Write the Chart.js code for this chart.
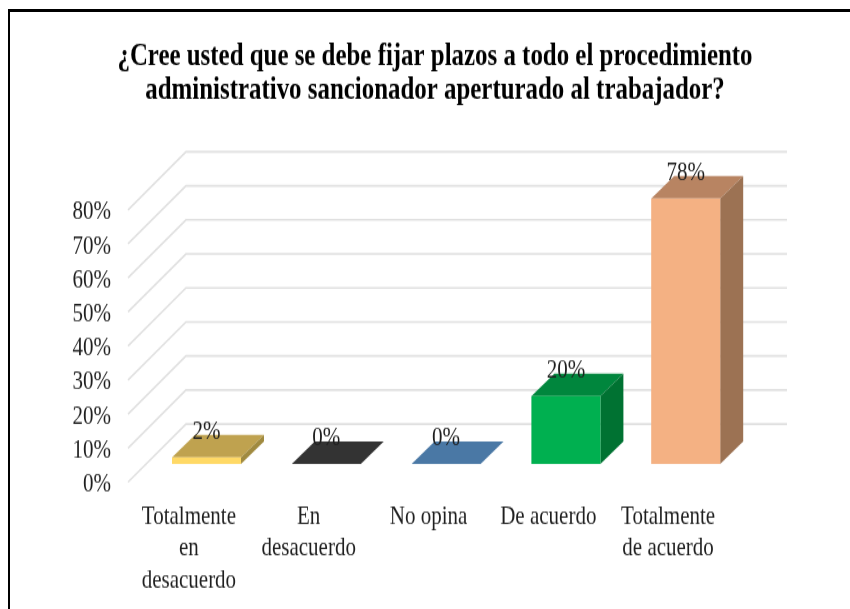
<!DOCTYPE html>
<html>
<head>
<meta charset="utf-8">
<style>
  html, body { margin: 0; padding: 0; background: #fff; overflow: hidden; }
  #frame { position: absolute; left: 8px; top: 9px; width: 842px; height: 600px; border-top: 3px solid #000; border-left: 2px solid #000; box-sizing: border-box; }
  /* the reference is stretched vertically, so the canvas is too */
  #chart { position: absolute; left: 0; top: 0; width: 850px; height: 609px; }
</style>
</head>
<body>
<canvas id="chart" width="850" height="487" style="width:850px;height:609px"></canvas>
<div id="frame"></div>
<script src="https://cdn.jsdelivr.net/npm/chart.js@4/dist/chart.umd.min.js"></script>
<script>
const titleLines = [
    "¿Cree usted que se debe fijar plazos a todo el procedimiento",
    "administrativo sancionador aperturado al trabajador?"
];
const categories = [
    ["Totalmente", "en", "desacuerdo"],
    ["En", "desacuerdo"],
    ["No opina"],
    ["De acuerdo"],
    ["Totalmente", "de acuerdo"]
];
const values = [2, 0, 0, 20, 78];
const frontColors = ["#FFD966", "#404040", "#5B9BD5", "#00B050", "#F4B183"];
const topColors = ["#BFA24F", "#333333", "#4A78A5", "#00863D", "#B88462"];
const sideColors = ["#A08A3F", "#2B2B2B", "#3F678C", "#007232", "#9C7253"];

const gridColor = "#E0E0E0";
const textColor = "#1F1F1F";
const serif = "'Liberation Serif', serif";

// 3D look, canvas units (y is stretched 1.25x by css afterwards)
const wallDx = 57, wallDy = 46.4;
const barDx = 17.6, barDy = 14.4;
const sideDx = 23, sideDy = 18;

const fake3d = {
    id: "fake3d",
    beforeDatasetsDraw(chart) {
        const { ctx, chartArea, scales } = chart;
        ctx.save();
        // back wall lines with their diagonal
        ctx.strokeStyle = gridColor;
        ctx.lineWidth = 1.6;
        scales.y.ticks.forEach(t => {
            const y = scales.y.getPixelForValue(t.value);
            ctx.beginPath();
            ctx.moveTo(chartArea.left - 1, y);
            ctx.lineTo(chartArea.left + wallDx, y - wallDy);
            ctx.lineTo(chartArea.right + wallDx + 2, y - wallDy);
            ctx.stroke();
        });
        // bars stand in the middle of the floor, so shift them back
        ctx.translate(barDx, -barDy);
        chart.getDatasetMeta(0).data.forEach((bar, i) => {
            const l = bar.x - bar.width / 2, r = bar.x + bar.width / 2;
            ctx.fillStyle = topColors[i];
            ctx.beginPath();
            ctx.moveTo(l, bar.y);
            ctx.lineTo(l + sideDx, bar.y - sideDy);
            ctx.lineTo(r + sideDx, bar.y - sideDy);
            ctx.lineTo(r, bar.y);
            ctx.closePath();
            ctx.fill();
            if (bar.base > bar.y) {
                ctx.fillStyle = sideColors[i];
                ctx.beginPath();
                ctx.moveTo(r, bar.y);
                ctx.lineTo(r + sideDx, bar.y - sideDy);
                ctx.lineTo(r + sideDx, bar.base - sideDy);
                ctx.lineTo(r, bar.base);
                ctx.closePath();
                ctx.fill();
            }
        });
    },
    afterDatasetsDraw(chart) {
        const { ctx } = chart;
        ctx.fillStyle = textColor;
        ctx.font = "21px " + serif;
        ctx.textAlign = "center";
        ctx.textBaseline = "middle";
        chart.getDatasetMeta(0).data.forEach((bar, i) => {
            ctx.fillText(values[i] + "%", bar.x, bar.y - 20.4);
        });
        ctx.restore();
    }
};

new Chart(document.getElementById("chart"), {
    type: "bar",
    data: {
        labels: categories,
        datasets: [{
            data: values,
            backgroundColor: frontColors,
            barPercentage: 0.576,
            categoryPercentage: 1
        }]
    },
    options: {
        responsive: false,
        animation: false,
        layout: { padding: { left: 20, right: 0, top: 32.4, bottom: 0 } },
        plugins: {
            legend: { display: false },
            tooltip: { enabled: false },
            title: {
                display: true,
                text: titleLines,
                color: "#000",
                font: { family: serif, size: 24.9, weight: "bold", lineHeight: 1.08 },
                padding: { top: 0, bottom: 81.6 }
            }
        },
        scales: {
            x: {
                grid: { display: false },
                border: { display: false },
                ticks: {
                    color: textColor,
                    autoSkip: false,
                    maxRotation: 0,
                    padding: 6.8,
                    font: { family: serif, size: 21, lineHeight: 1.22 }
                },
                afterFit(s) { s.height = 487 - 385.5; }
            },
            y: {
                min: 0,
                max: 80,
                grid: { display: false, drawTicks: false },
                border: { display: false },
                ticks: {
                    stepSize: 10,
                    autoSkip: false,
                    labelOffset: 2,
                    color: textColor,
                    padding: 18,
                    font: { family: serif, size: 21 },
                    callback: v => v + "%"
                },
                afterFit(s) { s.width = 109; }
            },
            // empty axis, only keeps the plot clear of the right side
            rightGap: {
                position: "right",
                min: 0,
                max: 1,
                grid: { display: false, drawTicks: false },
                border: { display: false },
                ticks: { display: false },
                afterFit(s) { s.width = 122; }
            }
        }
    },
    plugins: [fake3d]
});
</script>
</body>
</html>
